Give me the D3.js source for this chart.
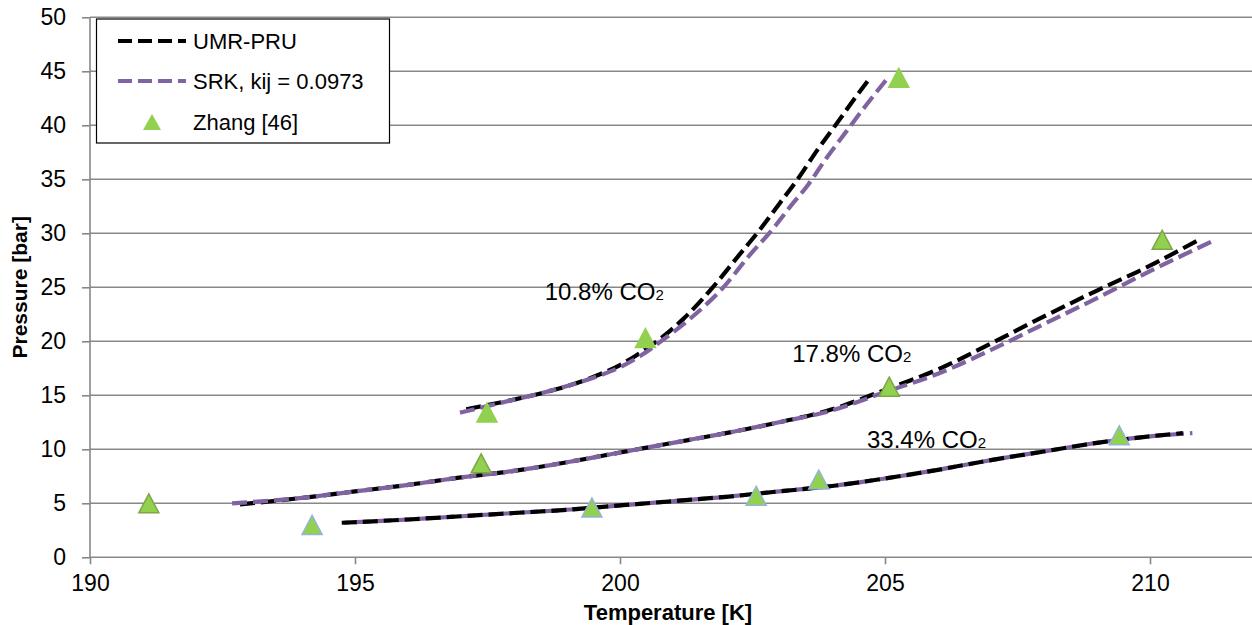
<!DOCTYPE html>
<html><head><meta charset="utf-8">
<script src="https://cdn.jsdelivr.net/npm/d3@7"></script>
<style>html,body{margin:0;padding:0;background:#fff}svg{display:block}</style>
</head><body>
<svg id="chart" width="1252" height="625"></svg>
<script>
// ---- data ----
const xTicks = [190, 195, 200, 205, 210];
const yTicks = [0, 5, 10, 15, 20, 25, 30, 35, 40, 45, 50];

const umr108 = [[197.1,13.7],[197.5,14.1],[198.0,14.6],[198.6,15.3],[199.1,16.0],[199.6,16.9],[200.0,17.8],[200.4,19.0],[200.75,20.2],[201.2,22.1],[201.75,25.0],[202.25,28.0],[202.65,30.4],[203.0,32.7],[203.35,35.0],[203.75,37.9],[204.05,39.9],[204.4,42.3],[204.72,44.4]];
const srk108 = [[196.98,13.4],[197.5,14.0],[198.0,14.6],[198.6,15.3],[199.1,16.0],[199.6,16.8],[200.0,17.6],[200.4,18.7],[200.8,20.1],[201.3,22.0],[201.95,25.0],[202.45,28.0],[202.9,30.5],[203.2,32.4],[203.55,34.5],[203.9,37.0],[204.25,39.3],[204.65,41.9],[205.04,44.3]];
const umr178 = [[192.83,4.9],[194.0,5.5],[195.0,6.1],[196.0,6.7],[197.0,7.4],[198.0,8.0],[199.0,8.8],[200.0,9.7],[201.0,10.6],[202.0,11.5],[203.0,12.5],[204.0,13.7],[205.0,15.5],[206.0,17.4],[207.0,19.8],[208.0,22.3],[209.0,24.7],[210.0,27.0],[210.92,29.4]];
const srk178 = [[192.68,5.0],[194.0,5.5],[195.0,6.1],[196.0,6.7],[197.0,7.4],[198.0,8.0],[199.0,8.8],[200.0,9.7],[201.0,10.6],[202.0,11.5],[203.0,12.5],[204.0,13.6],[205.0,15.3],[206.0,17.0],[207.0,19.2],[208.0,21.6],[209.0,24.0],[210.0,26.5],[211.19,29.3]];
const umr334 = [[194.75,3.2],[196.0,3.5],[197.0,3.8],[198.0,4.1],[199.0,4.4],[200.0,4.8],[201.0,5.2],[202.0,5.6],[203.0,6.1],[204.0,6.6],[205.0,7.3],[206.0,8.1],[207.0,9.0],[208.0,9.8],[209.0,10.6],[210.0,11.2],[210.62,11.5]];
const srk334 = [[194.8,3.2],[196.0,3.5],[197.0,3.8],[198.0,4.1],[199.0,4.4],[200.0,4.8],[201.0,5.2],[202.0,5.6],[203.0,6.1],[204.0,6.6],[205.0,7.3],[206.0,8.1],[207.0,9.0],[208.0,9.8],[209.0,10.6],[210.0,11.2],[210.8,11.5]];

const zhang108 = [[197.49,13.4],[200.48,20.3],[205.26,44.4]];
const zhang178 = [[191.11,5.0],[197.38,8.7],[205.08,15.8],[210.23,29.4]];
const zhang334 = [[194.19,3.0],[199.47,4.6],[202.57,5.7],[203.75,7.2],[209.42,11.3]];

const curveLabels = [["10.8% CO", "2", 198.58, 23.8], ["17.8% CO", "2", 203.25, 18.1], ["33.4% CO", "2", 204.66, 10.1]];
const legendLabels = ["UMR-PRU", "SRK, kij = 0.0973", "Zhang [46]"];

// ---- chart ----
const svg = d3.select("#chart");
const x = d3.scaleLinear().domain([190, 212]).range([90, 1256]);
const y = d3.scaleLinear().domain([0, 50]).range([557.3, 17.3]);
const grey = "#888888";
const purple = "#8064A2";
const green = "#92D050";
const font = "'Liberation Sans', Arial, sans-serif";

// gridlines
svg.append("g").selectAll("line").data(yTicks.filter(d => d > 0)).join("line")
  .attr("x1", x(190)).attr("x2", 1252)
  .attr("y1", d => y(d)).attr("y2", d => y(d))
  .attr("stroke", grey).attr("stroke-width", 1.6);

// axes
const yAxis = svg.append("g").attr("transform", `translate(${x(190)},0)`)
  .call(d3.axisLeft(y).tickValues(yTicks).tickSize(8).tickPadding(16));
const xAxis = svg.append("g").attr("transform", `translate(0,${y(0)})`)
  .call(d3.axisBottom(x).tickValues(xTicks).tickSize(7).tickPadding(10));
[yAxis, xAxis].forEach(a => {
  a.selectAll(".domain").attr("stroke", grey).attr("stroke-width", 1.6);
  a.selectAll(".tick line").attr("stroke", grey).attr("stroke-width", 1.6);
  a.selectAll("text").attr("font-family", font).attr("font-size", 23).attr("fill", "#000");
});
yAxis.select(".domain").attr("d", `M0,${y(50)}V${y(0)}`);
xAxis.select(".domain").attr("d", `M${x(190)},0H1252`);

// axis titles
svg.append("text").attr("x", 668).attr("y", 620)
  .attr("text-anchor", "middle").attr("font-family", font).attr("font-weight", "bold")
  .attr("font-size", 22).text("Temperature [K]");
svg.append("text").attr("transform", `translate(27,${(y(0) + y(50)) / 2}) rotate(-90)`)
  .attr("text-anchor", "middle").attr("font-family", font).attr("font-weight", "bold")
  .attr("font-size", 21).text("Pressure [bar]");

// curves
const line = d3.line().x(d => x(d[0])).y(d => y(d[1])).curve(d3.curveMonotoneX);
const curves = [
  [umr108, "#000", 0], [srk108, purple, 0],
  [umr178, "#000", 0], [srk178, purple, 0],
  [srk334, purple, 10], [umr334, "#000", 0]
];
svg.append("g").selectAll("path").data(curves).join("path")
  .attr("d", d => line(d[0])).attr("fill", "none")
  .attr("stroke", d => d[1]).attr("stroke-width", 4.2)
  .attr("stroke-dasharray", "15,6").attr("stroke-dashoffset", d => d[2]);

// markers
const tri = "M0,-9.5L10,9.5L-10,9.5Z";
const markerSets = [[zhang108, green], [zhang178, "#7EA744"], [zhang334, "#95B3D7"]];
markerSets.forEach(([pts, outline]) => {
  svg.append("g").selectAll("path").data(pts).join("path")
    .attr("transform", d => `translate(${x(d[0])},${y(d[1])})`)
    .attr("d", tri).attr("fill", green)
    .attr("stroke", outline).attr("stroke-width", 1.5);
});

// curve labels
curveLabels.forEach(([main, sub, tx, py]) => {
  const t = svg.append("text").attr("x", x(tx)).attr("y", y(py))
    .attr("font-family", font).attr("font-size", 24).attr("fill", "#000");
  t.append("tspan").text(main);
  t.append("tspan").attr("font-size", 15).text(sub);
});

// legend
const lg = svg.append("g");
lg.append("rect").attr("x", 96.5).attr("y", 19).attr("width", 293).attr("height", 124)
  .attr("fill", "#fff").attr("stroke", "#000").attr("stroke-width", 1.2);
const rows = [41, 81, 122];
lg.append("line").attr("x1", 118).attr("x2", 186).attr("y1", rows[0]).attr("y2", rows[0])
  .attr("stroke", "#000").attr("stroke-width", 4).attr("stroke-dasharray", "14,6");
lg.append("line").attr("x1", 118).attr("x2", 186).attr("y1", rows[1]).attr("y2", rows[1])
  .attr("stroke", purple).attr("stroke-width", 4).attr("stroke-dasharray", "14,6");
lg.append("path").attr("transform", `translate(152,${rows[2]})`)
  .attr("d", "M0,-8L9,8L-9,8Z").attr("fill", green);
lg.selectAll("text.l").data(legendLabels).join("text").attr("class", "l")
  .attr("x", 193).attr("y", (d, i) => rows[i]).attr("dy", "0.36em")
  .attr("font-family", font).attr("font-size", 22).text(d => d);
</script>
</body></html>
